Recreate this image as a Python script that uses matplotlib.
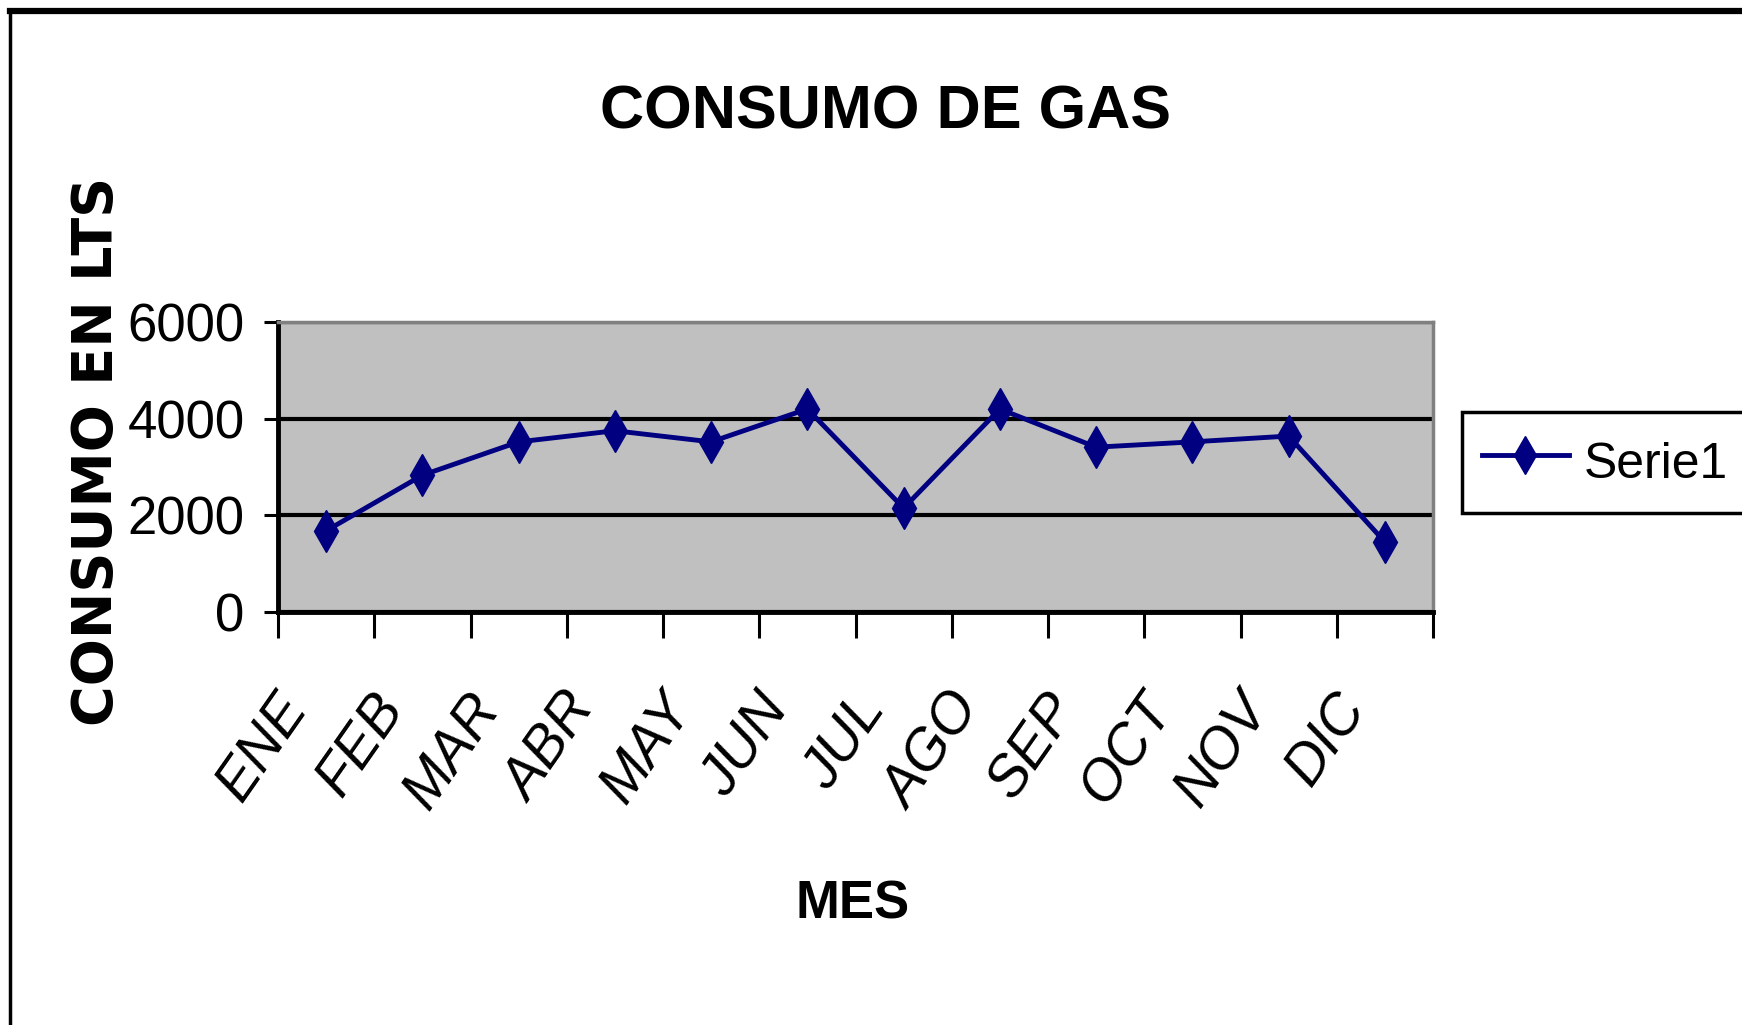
import matplotlib
matplotlib.use("Agg")
import matplotlib.pyplot as plt
from matplotlib.lines import Line2D
from matplotlib.transforms import ScaledTranslation
from matplotlib import font_manager

# Datos del grafico
meses = ["ENE", "FEB", "MAR", "ABR", "MAY", "JUN", "JUL", "AGO", "SEP", "OCT", "NOV", "DIC"]
consumo = [1680, 2830, 3520, 3750, 3520, 4200, 2150, 4200, 3410, 3520, 3640, 1450]
yticks = [0, 2000, 4000, 6000]
serie = "Serie1"

names = {f.name for f in font_manager.fontManager.ttflist}
narrow = "Liberation Sans Narrow" if "Liberation Sans Narrow" in names else "Liberation Sans"
plt.rcParams["font.family"] = [narrow, "DejaVu Sans"]

fig = plt.figure(figsize=(17.42, 10.25), dpi=100)
W, H = 1742, 1025

# borde del area del grafico
fig.add_artist(Line2D([10 / W, 10 / W], [0, 1 - 11 / H], color="black", lw=2.5))
fig.add_artist(Line2D([10 / W, 1], [1 - 11 / H, 1 - 11 / H], color="black", lw=4.5))

ax = fig.add_axes([278 / W, 1 - 612 / H, (1433 - 278) / W, (612 - 322) / H])
ax.set_facecolor("#C0C0C0")

x = list(range(len(meses)))
ax.plot(x, consumo, color="#000080", lw=3.5, marker="d", markersize=21,
        markerfacecolor="#000080", markeredgecolor="#000080", label=serie, zorder=3)

ax.set_xlim(-0.5, len(meses) - 0.5)
ax.set_ylim(0, 6000)
ax.set_yticks(yticks)
ax.yaxis.grid(True, color="black", lw=3)
ax.set_axisbelow(True)

# ticks entre categorias, etiquetas en el centro
ax.set_xticks([i - 0.5 for i in range(len(meses) + 1)])
ax.set_xticklabels([])
ax.set_xticks(x, meses, minor=True)
ax.tick_params(axis="x", which="major", length=19, width=2.2, direction="out")
ax.tick_params(axis="x", which="minor", length=0, pad=52, labelsize=41)
ax.tick_params(axis="y", length=10, width=2.2, pad=14, labelsize=38)
off = ScaledTranslation(-0.08, 0, fig.dpi_scale_trans)
for lab in ax.get_xticklabels(minor=True):
    lab.set_rotation(55)
    lab.set_ha("right")
    lab.set_va("top")
    lab.set_style("italic")
    lab.set_transform(lab.get_transform() + off)

for s in ["left", "bottom"]:
    ax.spines[s].set_color("black")
    ax.spines[s].set_linewidth(3.5)
for s in ["top", "right"]:
    ax.spines[s].set_color("#808080")
    ax.spines[s].set_linewidth(2.5)

fig.text(885 / W, 1 - 113 / H, "CONSUMO DE GAS", ha="center", va="center",
         fontsize=44, fontweight="bold")

ax.set_ylabel("CONSUMO EN LTS", family=["DejaVu Sans"],
              fontsize=40, fontweight="bold", va="center")
ax.yaxis.set_label_coords((97 - 278) / (1433 - 278), (612 - 451) / (612 - 322))

ax.set_xlabel("MES", fontsize=38, fontweight="bold", va="center")
ax.xaxis.set_label_coords((853 - 278) / (1433 - 278), (612 - 905) / (612 - 322))

leg = fig.legend(loc="center", bbox_to_anchor=(1605 / W, 1 - 462 / H), fontsize=36,
                 frameon=True, fancybox=False, edgecolor="black", framealpha=1,
                 handlelength=1.75, handleheight=1.5, handletextpad=0.3,
                 borderpad=0.4, borderaxespad=0, markerscale=0.9)
leg.get_frame().set_linewidth(2.5)

fig.savefig("out.png", dpi=100)
